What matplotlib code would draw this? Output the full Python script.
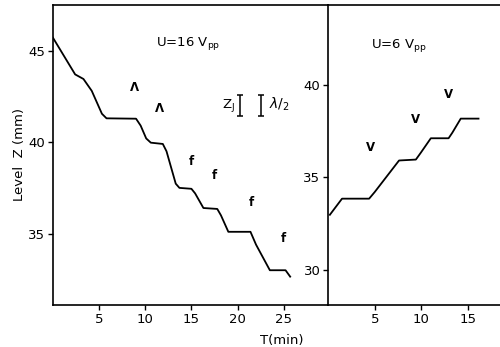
import matplotlib
matplotlib.use('Agg')
import matplotlib.pyplot as plt

# left panel: U = 16 Vpp, level falls in steps
t_left = [0.0, 2.4, 3.3, 4.2, 5.3, 5.8, 9.0, 9.5, 10.1, 10.6, 11.9, 12.3, 13.3, 13.7, 15.0,
          15.4, 16.3, 17.8, 18.2, 19.0, 21.4, 22.0, 23.5, 25.2, 25.7]
z_left = [45.7, 43.7, 43.45, 42.8, 41.55, 41.3, 41.28, 40.9, 40.2, 39.97, 39.9, 39.5, 37.73, 37.5, 37.45,
          37.2, 36.4, 36.35, 36.0, 35.1, 35.1, 34.4, 33.0, 33.0, 32.65]

# right panel: U = 6 Vpp, level rises in steps
t_right = [0.2, 1.5, 4.4, 5.0, 7.6, 9.4, 9.9, 11.0, 12.9, 13.3, 14.2, 16.1]
z_right = [32.97, 33.84, 33.84, 34.2, 35.9, 35.95, 36.3, 37.1, 37.1, 37.4, 38.16, 38.16]

# marker symbols (position in data units)
lam_t = [8.8, 11.5]
lam_z = [43.0, 41.85]
f_t = [15.0, 17.5, 21.5, 25.0]
f_z = [38.95, 38.15, 36.7, 34.75]
v_t = [4.6, 9.4, 12.9]
v_z = [36.6, 38.1, 39.45]

plt.rcParams['font.family'] = 'DejaVu Sans'
plt.rcParams['font.size'] = 9.5

fig = plt.figure(figsize=(5.0, 3.47), dpi=100)
ax1 = fig.add_axes([0.106, 0.121, 0.550, 0.865])
ax2 = fig.add_axes([0.656, 0.121, 0.344, 0.865])

for ax in (ax1, ax2):
    for s in ax.spines.values():
        s.set_linewidth(1.2)
    ax.tick_params(direction='out', length=3.5, width=1.0, labelsize=9.5, pad=2)
ax1.spines['right'].set_visible(False)
ax2.spines['right'].set_visible(False)

ax1.plot(t_left, z_left, color='black', lw=1.3, solid_joinstyle='round')
ax1.set_xlim(0, 29.8)
ax1.set_ylim(31.1, 47.5)
ax1.set_xticks([5, 10, 15, 20, 25])
ax1.set_yticks([35, 40, 45])
ax1.set_ylabel('Level  Z (mm)', labelpad=2)
ax1.set_xlabel('T(min)', labelpad=0)
ax1.xaxis.set_label_coords(0.83, -0.095)

ax1.text(11.2, 45.4, 'U=16 V$_\\mathregular{pp}$', fontsize=9.5, ha='left', va='center')
for t, z in zip(lam_t, lam_z):
    ax1.text(t, z, 'Λ', fontsize=8.5, ha='center', va='center', fontweight='bold')
for t, z in zip(f_t, f_z):
    ax1.text(t, z, 'f', fontsize=8.5, ha='center', va='center', fontweight='bold')
ax1.text(19.0, 42.0, 'Z$_\\mathregular{J}$', fontsize=9.5, ha='center', va='center')
ax1.errorbar([20.3, 22.5], [42.0, 42.0], yerr=[0.55, 0.55], fmt='none',
             ecolor='black', elinewidth=1.1, capsize=2.5, capthick=1.1)
ax1.text(23.4, 42.05, '$\\lambda$/$_\\mathregular{2}$', fontsize=10, ha='left', va='center')

ax2.plot(t_right, z_right, color='black', lw=1.3, solid_joinstyle='round')
ax2.set_xlim(0, 18.4)
ax2.set_ylim(28.1, 44.3)
ax2.set_xticks([5, 10, 15])
ax2.set_yticks([30, 35, 40])
ax2.text(4.6, 42.1, 'U=6 V$_\\mathregular{pp}$', fontsize=9.5, ha='left', va='center')
for t, z in zip(v_t, v_z):
    ax2.text(t, z, 'V', fontsize=8.5, ha='center', va='center', fontweight='bold')

fig.savefig('out.png', dpi=100)
